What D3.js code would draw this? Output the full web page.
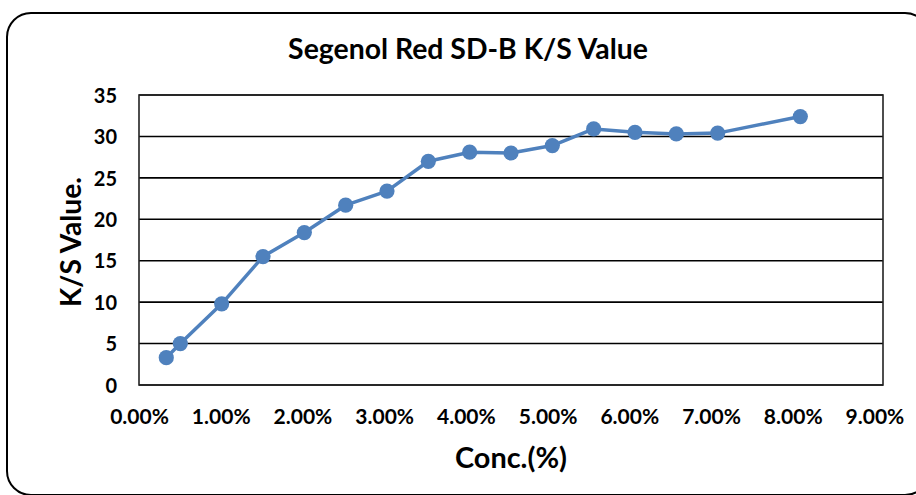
<!DOCTYPE html>
<html>
<head>
<meta charset="utf-8">
<script src="https://cdn.jsdelivr.net/npm/d3@7"></script>
<style>
  html, body { margin: 0; padding: 0; background: #fff; }
  svg { display: block; }
  text { font-family: Lato, "Open Sans", sans-serif; font-weight: bold; fill: #000; }
</style>
</head>
<body>
<svg id="chart" width="916" height="495"></svg>
<script>
const title = "Segenol Red SD-B K/S Value";
const xTitle = "Conc.(%)";
const yTitle = "K/S Value.";
const conc = [0.0033, 0.005, 0.010, 0.015, 0.020, 0.025, 0.030, 0.035, 0.040, 0.045, 0.050, 0.055, 0.060, 0.065, 0.070, 0.080];
const ksValues = [3.3, 5.0, 9.8, 15.5, 18.4, 21.7, 23.4, 27.0, 28.1, 28.0, 28.9, 30.9, 30.5, 30.3, 30.4, 32.4];
const xTicks = [0, 0.01, 0.02, 0.03, 0.04, 0.05, 0.06, 0.07, 0.08, 0.09];
const yTicks = [0, 5, 10, 15, 20, 25, 30, 35];

const plot = { left: 139, right: 883, top: 95, bottom: 385 };
const svg = d3.select("#chart");

function fitWidth(sel, target) {
  const node = sel.node();
  const base = parseFloat(sel.style("font-size"));
  const len = node.getComputedTextLength();
  if (len > 0) sel.style("font-size", (base * target / len).toFixed(2) + "px");
  return sel;
}

// outer rounded border
svg.append("rect")
  .attr("x", 7).attr("y", 13).attr("width", 922).attr("height", 482)
  .attr("rx", 24).attr("ry", 24)
  .attr("fill", "#fff").attr("stroke", "#000").attr("stroke-width", 2);

const x = d3.scaleLinear().domain([0, 0.09]).range([plot.left, plot.right]);
const y = d3.scaleLinear().domain([0, 35]).range([plot.bottom, plot.top]);

// gridlines
svg.append("g").selectAll("line").data(yTicks).join("line")
  .attr("x1", plot.left).attr("x2", plot.right)
  .attr("y1", d => y(d)).attr("y2", d => y(d))
  .attr("stroke", "#000").attr("stroke-width", 1.6);

// plot frame
svg.append("rect")
  .attr("x", plot.left).attr("y", plot.top)
  .attr("width", plot.right - plot.left).attr("height", plot.bottom - plot.top)
  .attr("fill", "none").attr("stroke", "#222").attr("stroke-width", 1.6);

// y axis
const yAxis = svg.append("g")
  .attr("transform", `translate(${plot.left},0)`)
  .call(d3.axisLeft(y).tickValues(yTicks).tickSize(0).tickPadding(22).tickFormat(d3.format("d")));
yAxis.select(".domain").remove();
yAxis.selectAll("text").style("font-size", "20px").style("font-family", "Lato, sans-serif").attr("dy", "0.36em");

// x axis
const xAxis = svg.append("g")
  .attr("transform", `translate(0,${plot.bottom})`)
  .call(d3.axisBottom(x).tickValues(xTicks).tickSize(0).tickPadding(39).tickFormat(d3.format(".2%")));
xAxis.select(".domain").remove();
xAxis.selectAll("text").style("font-size", "21px").style("font-family", "Lato, sans-serif")
  .attr("dy", "0").attr("dx", (d, i) => -i * 0.95);

// line
const line = d3.line().x((d, i) => x(conc[i])).y(d => y(d));
svg.append("path").datum(ksValues)
  .attr("d", line)
  .attr("fill", "none").attr("stroke", "#4F81BD").attr("stroke-width", 3.5)
  .attr("stroke-linejoin", "round");

svg.append("g").selectAll("circle").data(ksValues).join("circle")
  .attr("cx", (d, i) => x(conc[i])).attr("cy", d => y(d))
  .attr("r", 7.6).attr("fill", "#4F81BD");

// titles
const t = svg.append("text").attr("x", 468).attr("y", 59).attr("text-anchor", "middle")
  .style("font-size", "24px").text(title);
fitWidth(t, 360);
const xt = svg.append("text").attr("x", 511).attr("y", 468).attr("text-anchor", "middle")
  .style("font-size", "26px").text(xTitle);
fitWidth(xt, 112);
const yt = svg.append("text").attr("transform", "translate(81,242) rotate(-90)").attr("text-anchor", "middle")
  .style("font-size", "26px").text(yTitle);
fitWidth(yt, 130);
</script>
</body>
</html>
